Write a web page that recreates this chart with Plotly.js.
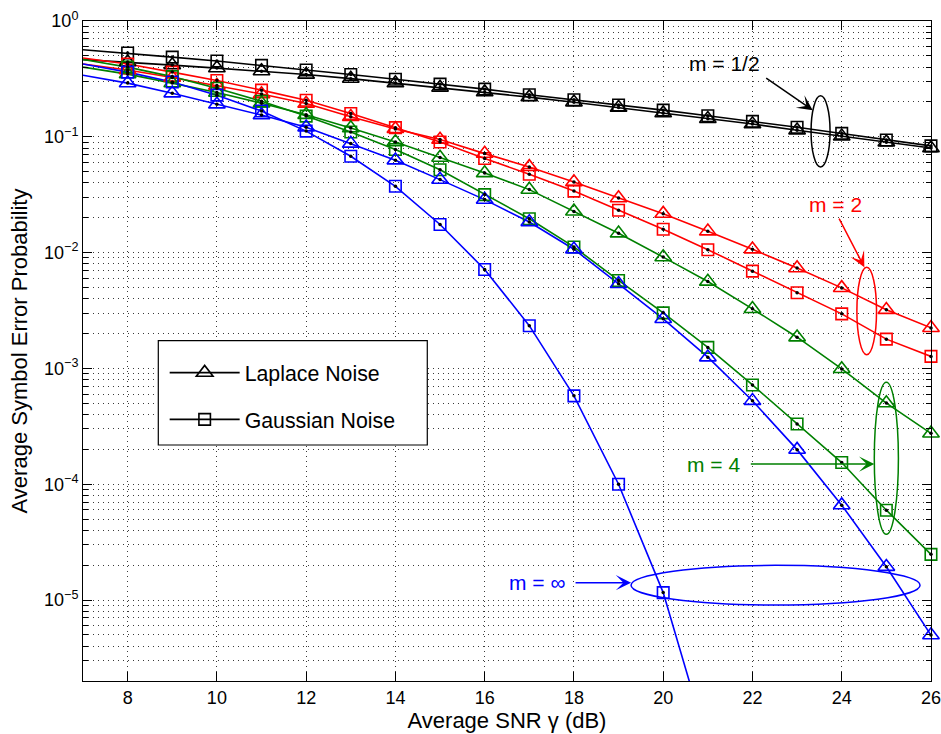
<!DOCTYPE html>
<html>
<head>
<meta charset="utf-8">
<script src="https://cdn.plot.ly/plotly-3.0.1.min.js"></script>
<style>html,body{margin:0;padding:0;background:#fff}#chart{width:941px;height:734px}</style>
</head>
<body>
<div id="chart"></div>
<script>
// SNR grid (dB): curves start at 7 dB, markers every 1 dB from 8 dB
const snrLine = [7,8,9,10,11,12,13,14,15,16,17,18,19,20,21,22,23,24,25,26];
const snrInfGaussLine = [7,8,9,10,11,12,13,14,15,16,17,18,19,20,21];

// m = 1/2 (black)
const peHalfLaplace = [0.464,0.442,0.416,0.392,0.369,0.345,0.318,0.291,0.266,0.243,0.220,0.199,0.179,0.160,0.143,0.129,0.114,0.101,0.0898,0.0800];
const peHalfGauss   = [0.565,0.529,0.488,0.451,0.414,0.378,0.345,0.314,0.285,0.258,0.231,0.209,0.188,0.170,0.152,0.136,0.121,0.107,0.0940,0.0835];
// m = 2 (red)
const pe2Laplace = [0.425,0.377,0.325,0.277,0.234,0.194,0.149,0.117,0.0948,0.0716,0.0550,0.0407,0.0296,0.0217,0.0153,0.0107,0.00735,0.00496,0.00321,0.00224];
const pe2Gauss   = [0.480,0.425,0.362,0.306,0.253,0.207,0.159,0.120,0.0903,0.0649,0.0475,0.0340,0.0232,0.0159,0.0106,0.00692,0.00450,0.00296,0.00179,0.00127];
// m = 4 (green)
const pe4Laplace = [0.400,0.348,0.291,0.241,0.195,0.155,0.119,0.0903,0.0662,0.0487,0.0350,0.0227,0.0147,0.00915,0.00563,0.00327,0.00186,0.00099,0.000502,0.000275];
const pe4Gauss   = [0.465,0.400,0.331,0.263,0.203,0.151,0.110,0.0776,0.0520,0.0317,0.0196,0.0112,0.00575,0.00302,0.00152,0.00072,0.000331,0.000154,0.0000597,0.0000248];
// m = infinity (blue)
const peInfLaplace = [0.340,0.291,0.238,0.191,0.154,0.121,0.0875,0.0628,0.0427,0.0287,0.0184,0.0107,0.00538,0.00268,0.00125,0.000526,0.000199,0.000066,0.0000194,0.00000498];
const peInfGauss   = [0.425,0.362,0.297,0.229,0.167,0.112,0.068,0.0374,0.0175,0.00716,0.00234,0.00058,0.0001,0.0000116,0.00000057];

const xTickVals = [8,10,12,14,16,18,20,22,24,26];
const yTickVals = [1e-5,1e-4,1e-3,1e-2,1e-1,1];
const yTickText = ['10<sup>\u22125</sup>','10<sup>\u22124</sup>','10<sup>\u22123</sup>','10<sup>\u22122</sup>','10<sup>\u22121</sup>','10<sup>0</sup>'];
const legendNames = ['Laplace Noise','Gaussian Noise'];

const BLACK = '#000000', RED = '#ff0000', GREEN = '#008000', BLUE = '#0000ff';
const TRI = 14.5, SQ = 11.5;

const series = [
  {x: snrLine, y: peHalfLaplace, c: BLACK, s: 'triangle-up-open'},
  {x: snrLine, y: peHalfGauss,   c: BLACK, s: 'square-open'},
  {x: snrLine, y: pe2Laplace,    c: RED,   s: 'triangle-up-open'},
  {x: snrLine, y: pe2Gauss,      c: RED,   s: 'square-open'},
  {x: snrLine, y: pe4Laplace,    c: GREEN, s: 'triangle-up-open'},
  {x: snrLine, y: pe4Gauss,      c: GREEN, s: 'square-open'},
  {x: snrLine, y: peInfLaplace,  c: BLUE,  s: 'triangle-up-open'},
  {x: snrInfGaussLine, y: peInfGauss, c: BLUE, s: 'square-open'}
];

const traces = [];
series.forEach(function(sr){
  traces.push({x: sr.x, y: sr.y, type:'scatter', mode:'lines', showlegend:false, hoverinfo:'skip',
    line:{color: sr.c, width:1.6}});
});
series.forEach(function(sr){
  traces.push({x: sr.x.slice(1), y: sr.y.slice(1), type:'scatter', mode:'markers', showlegend:false, cliponaxis:false,
    marker:{symbol: sr.s, size: sr.s === 'square-open' ? SQ : TRI, color: sr.c, line:{color: sr.c, width:1.6}}});
});
series.forEach(function(sr){
  traces.push({x: sr.x.slice(1), y: sr.y.slice(1), type:'scatter', mode:'markers', showlegend:false, cliponaxis:false,
    hoverinfo:'skip', marker:{symbol:'circle', size:3.5, color:BLACK}});
});
// legend entries
traces.push({x:[null], y:[null], type:'scatter', mode:'lines+markers', name: legendNames[0], legendgroup:'a',
  line:{color:BLACK, width:1.6}, marker:{symbol:'triangle-up-open', size:TRI, color:BLACK, line:{color:BLACK, width:1.6}}});
traces.push({x:[null], y:[null], type:'scatter', mode:'lines+markers', name: legendNames[1], legendgroup:'b',
  line:{color:BLACK, width:1.6}, marker:{symbol:'square-open', size:SQ, color:BLACK, line:{color:BLACK, width:1.6}}});

const minorVals = [];
for (let e = -6; e <= -1; e++) {
  for (let d = 2; d <= 9; d++) {
    const v = d * Math.pow(10, e);
    if (v > 2.05e-6) minorVals.push(v);
  }
}

const FONT = 'Liberation Sans, Arial, Helvetica, sans-serif';
const gridDash = '1px,4px';
const GRID = '#3a3a3a';

function arrow(x, y, ax, ay, col) {
  return {x: x, y: y, xref:'x', yref:'y', text:'', showarrow:true, ax: ax, ay: ay,
    arrowhead:3, arrowsize:1.7, arrowwidth:1.5, arrowcolor: col, standoff:0, startstandoff:0};
}
function label(x, y, txt, col) {
  return {x: x, y: y, xref:'x', yref:'y', text: txt, showarrow:false, font:{size:21, color: col, family: FONT}};
}

const layout = {
  width: 941, height: 734,
  margin: {l:83, r:10, t:21, b:53},
  paper_bgcolor:'#ffffff', plot_bgcolor:'#ffffff',
  font: {family: FONT, color:'#000', size:18},
  showlegend: true,
  legend: {x: 0.0963, y: 0.498, xanchor:'left', yanchor:'top', bgcolor:'rgba(0,0,0,0)',
    borderwidth:0, font:{size:21.3, family: FONT, color:'#000'},
    itemwidth: 70, traceorder:'grouped', tracegroupgap: 16},
  xaxis: {
    range:[7,26.0005], tickmode:'array', tickvals: xTickVals, ticks:'inside', ticklen:9, tickwidth:1, tickcolor:'#000',
    showline:true, linecolor:'#000', linewidth:1, mirror:'ticks',
    showgrid:true, gridcolor:GRID, gridwidth:1, griddash: gridDash, zeroline:false,
    tickfont:{size:18, color:'#000'},
    title:{text:'Average SNR \u03b3 (dB)', font:{size:22, color:'#000'}, standoff:6}
  },
  yaxis: {
    type:'log', range:[Math.log10(2e-6), 0.0001], tickmode:'array', tickvals: yTickVals, ticktext: yTickText,
    ticks:'inside', ticklen:9, tickwidth:1, tickcolor:'#000',
    showline:true, linecolor:'#000', linewidth:1, mirror:'ticks',
    showgrid:true, gridcolor:GRID, gridwidth:1, griddash: gridDash, zeroline:false,
    tickfont:{size:18, color:'#000'},
    minor:{tickmode:'array', tickvals: minorVals, ticks:'inside', ticklen:5, tickcolor:'#000',
      showgrid:true, gridcolor:GRID, gridwidth:1, griddash: gridDash},
    title:{text:'Average Symbol Error Probability', font:{size:22, color:'#000'}, standoff:10}
  },
  shapes: [
    {type:'rect', xref:'paper', yref:'paper', x0:0.0888, x1:0.406, y0:0.3576, y1:0.5156,
      fillcolor:'#ffffff', line:{color:'#000', width:1.2}, layer:'above'},
    {type:'circle', xref:'x', yref:'y', x0:23.313, x1:23.739, y0:0.0549, y1:0.2259, line:{color:BLACK, width:1.5}},
    {type:'circle', xref:'x', yref:'y', x0:24.34, x1:24.78, y0:1.316e-3, y1:7.49e-3, line:{color:RED, width:1.5}},
    {type:'circle', xref:'x', yref:'y', x0:24.73, x1:25.27, y0:3.7e-5, y1:7.58e-4, line:{color:GREEN, width:1.5}},
    {type:'circle', xref:'x', yref:'y', x0:19.28, x1:25.755, y0:9.05e-6, y1:1.995e-5, line:{color:BLUE, width:1.5}}
  ],
  annotations: [
    label(21.37, -0.363, 'm = 1/2', BLACK),
    arrow(23.35, -0.770, -48, -33, BLACK),
    label(23.87, -1.583, 'm = 2', RED),
    arrow(24.507, -2.1255, -26, -50, RED),
    label(21.13, -3.826, 'm = 4', GREEN),
    arrow(24.73, -3.826, -125, 0, GREEN),
    label(17.17, -4.850, 'm = \u221e', BLUE),
    arrow(19.28, -4.850, -57, 0, BLUE)
  ]
};

Plotly.newPlot('chart', traces, layout, {staticPlot:true, displayModeBar:false});
</script>
</body>
</html>
